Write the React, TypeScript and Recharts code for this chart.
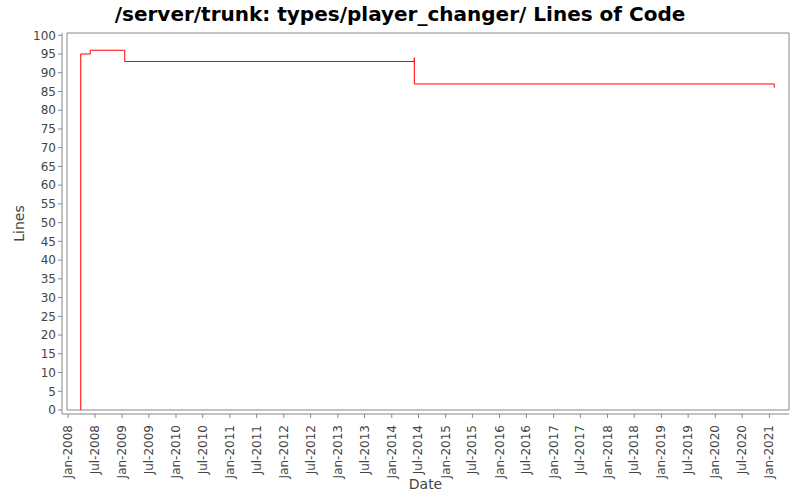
import { LineChart, Line, XAxis, YAxis, ReferenceArea, Label } from "recharts";

// Commit history of types/player_changer/ (lines of code after each change)
const commitDates = [
  "2008-03-27",
  "2008-03-27",
  "2008-05-30",
  "2009-01-19",
  "2014-06-03",
  "2014-06-03",
  "2021-02-03",
];
const linesOfCode = [0, 95, 96, 93, 94, 87, 86];

const yTicks = [0, 5, 10, 15, 20, 25, 30, 35, 40, 45, 50, 55, 60, 65, 70, 75, 80, 85, 90, 95, 100];

const xTickDates = [
  "2008-01-01", "2008-07-01", "2009-01-01", "2009-07-01", "2010-01-01", "2010-07-01",
  "2011-01-01", "2011-07-01", "2012-01-01", "2012-07-01", "2013-01-01", "2013-07-01",
  "2014-01-01", "2014-07-01", "2015-01-01", "2015-07-01", "2016-01-01", "2016-07-01",
  "2017-01-01", "2017-07-01", "2018-01-01", "2018-07-01", "2019-01-01", "2019-07-01",
  "2020-01-01", "2020-07-01", "2021-01-01",
];

const dateRange = ["2007-12-25", "2021-05-14"];
const yMax = 100.6;

const MONTHS = ["Jan", "Feb", "Mar", "Apr", "May", "Jun", "Jul", "Aug", "Sep", "Oct", "Nov", "Dec"];

const toTime = (s: string) => Date.parse(s + "T00:00:00Z");

const data = commitDates.map((d, i) => ({ time: toTime(d), loc: linesOfCode[i] }));
const xTicks = xTickDates.map(toTime);
const xDomain = dateRange.map(toTime);

const formatDate = (t: number) => {
  const d = new Date(t);
  return `${MONTHS[d.getUTCMonth()]}-${d.getUTCFullYear()}`;
};

const FONT = "'DejaVu Sans', sans-serif";

function DateTick(props: any) {
  const { x, y, payload } = props;
  return (
    <text
      transform={`translate(${x + 4},${y + 5}) rotate(-90)`}
      textAnchor="end"
      fontSize={12}
      fontFamily={FONT}
      fill="#444444"
    >
      {formatDate(payload.value)}
    </text>
  );
}

export default function App() {
  return (
    <div style={{ position: "absolute", left: 0, top: 0, width: 800, height: 500, background: "#fff", fontFamily: FONT }}>
      <div
        style={{
          position: "absolute",
          top: 2,
          left: 0,
          width: 800,
          textAlign: "center",
          fontSize: 20,
          fontWeight: "bold",
          color: "#000",
          lineHeight: "normal",
        }}
      >
        /server/trunk: types/player_changer/ Lines of Code
      </div>
      <LineChart
        width={800}
        height={500}
        data={data}
        margin={{ top: 33, right: 11, bottom: 0, left: 0 }}
      >
        <XAxis
          dataKey="time"
          type="number"
          domain={xDomain}
          allowDataOverflow
          ticks={xTicks}
          interval={0}
          height={86}
          padding={{ left: 5, right: 0 }}
          tickSize={4}
          tickMargin={2}
          stroke="#888888"
          tick={<DateTick />}
        >
          <Label
            value="Date"
            position="insideBottom"
            offset={11}
            fontSize={14}
            fontFamily={FONT}
            fill="#444444"
          />
        </XAxis>
        <YAxis
          type="number"
          domain={[0, yMax]}
          allowDataOverflow
          ticks={yTicks}
          interval={0}
          width={62}
          padding={{ top: 0, bottom: 4 }}
          tickSize={4}
          tickMargin={2}
          stroke="#888888"
          tick={{ fontSize: 12, fontFamily: FONT, fill: "#444444" }}
        >
          <Label
            content={({ viewBox }: any) => {
              const cy = viewBox.y + viewBox.height / 2;
              return (
                <text
                  transform={`translate(24,${cy}) rotate(-90)`}
                  textAnchor="middle"
                  fontSize={14}
                  fontFamily={FONT}
                  fill="#444444"
                >
                  Lines
                </text>
              );
            }}
          />
        </YAxis>
        <ReferenceArea
          x1={xDomain[0]}
          x2={xDomain[1]}
          y1={0}
          y2={yMax}
          fill="none"
          stroke="#888888"
          strokeWidth={1}
          ifOverflow="visible"
        />
        <Line
          dataKey="loc"
          type="stepAfter"
          stroke="#ff0000"
          strokeWidth={1}
          dot={false}
          activeDot={false}
          isAnimationActive={false}
        />
      </LineChart>
    </div>
  );
}
